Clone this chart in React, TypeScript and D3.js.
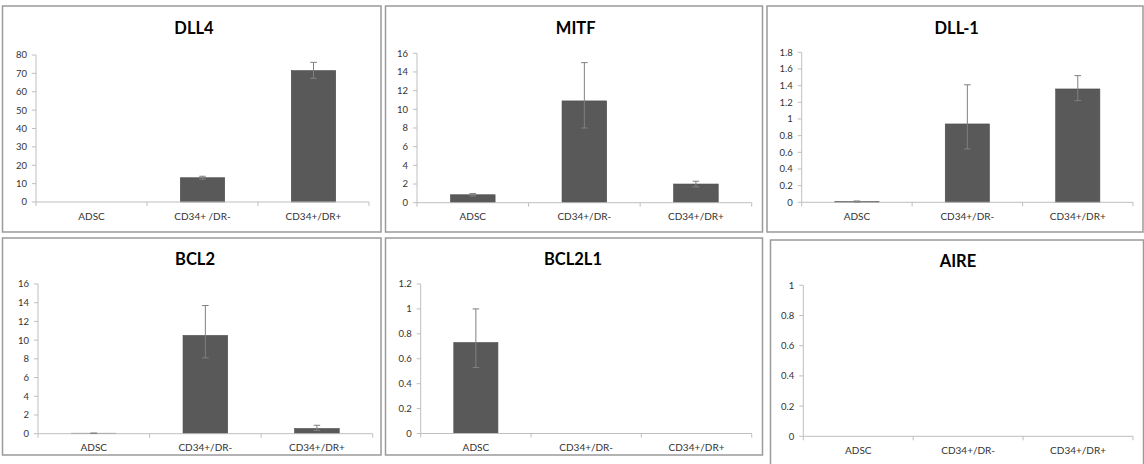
import React from "react";
import * as d3 from "d3";

// ---------- data ----------
const categories = ["ADSC", "CD34+/DR-", "CD34+/DR+"];
const dll4Categories = ["ADSC", "CD34+ /DR-", "CD34+/DR+"];
const genes = ["DLL4", "MITF", "DLL-1", "BCL2", "BCL2L1", "AIRE"];

const dll4Values = [0, 13.2, 71.5];
const dll4Upper = [0, 14.0, 76.0];
const dll4Lower = [0, 12.4, 67.3];

const mitfValues = [0.85, 10.9, 2.0];
const mitfUpper = [0.98, 15.0, 2.3];
const mitfLower = [0.72, 8.0, 1.7];

const dll1Values = [0.01, 0.94, 1.36];
const dll1Upper = [0.016, 1.41, 1.52];
const dll1Lower = [0.004, 0.64, 1.22];

const bcl2Values = [0.05, 10.5, 0.55];
const bcl2Upper = [0.06, 13.7, 0.9];
const bcl2Lower = [0.04, 8.1, 0.35];

const bcl2l1Values = [0.73, 0, 0];
const bcl2l1Upper = [1.0, 0, 0];
const bcl2l1Lower = [0.53, 0, 0];

const aireValues = [0, 0, 0];
const aireUpper = [0, 0, 0];
const aireLower = [0, 0, 0];

const yMaxes = [80, 16, 1.8, 16, 1.2, 1];
const ySteps = [10, 2, 0.2, 2, 0.2, 0.2];

// ---------- layout ----------
type Layout = {
  box: [number, number, number, number];
  plot: [number, number, number, number]; // left, top, right, bottom
  title: [number, number];
};
const layouts: Layout[] = [
  { box: [2.5, 6, 378.5, 226], plot: [36, 55, 369, 202], title: [194, 34] },
  { box: [385.5, 6, 377, 226], plot: [417, 53.3, 751.7, 202.7], title: [575.7, 33.5] },
  { box: [767, 6, 376, 226], plot: [801.7, 52.3, 1133, 202.3], title: [956.7, 33.5] },
  { box: [2.5, 238, 378.5, 217], plot: [38, 284, 372.7, 433.7], title: [195, 265] },
  { box: [385.5, 238, 377, 217], plot: [420.7, 284, 751.7, 433.5], title: [573, 265] },
  { box: [770.5, 240, 373, 230], plot: [803.3, 285.3, 1133, 436.3], title: [958, 266.5] },
];

const seriesValues = [dll4Values, mitfValues, dll1Values, bcl2Values, bcl2l1Values, aireValues];
const seriesUpper = [dll4Upper, mitfUpper, dll1Upper, bcl2Upper, bcl2l1Upper, aireUpper];
const seriesLower = [dll4Lower, mitfLower, dll1Lower, bcl2Lower, bcl2l1Lower, aireLower];

const FONT = "Lato, 'Open Sans', sans-serif";
const AXIS = "#bfbfbf";
const TEXT = "#333333";
const BAR = "#595959";
const ERR = "#808080";

const fmt = (v: number) => String(+v.toFixed(1));

function Panel({ i }: { i: number }) {
  const L = layouts[i];
  const [left, top, right, bottom] = L.plot;
  const cats = i === 0 ? dll4Categories : categories;
  const x = d3
    .scaleBand<string>()
    .domain(cats)
    .range([left, right])
    .paddingInner(0.6)
    .paddingOuter(0.3);
  const step = (right - left) / cats.length;
  const y = d3.scaleLinear().domain([0, yMaxes[i]]).range([bottom, top]);
  const ticks = d3.range(0, yMaxes[i] + ySteps[i] / 2, ySteps[i]);
  const vals = seriesValues[i];
  const up = seriesUpper[i];
  const lo = seriesLower[i];
  const bw = x.bandwidth();
  return (
    <g>
      <rect x={L.box[0]} y={L.box[1]} width={L.box[2]} height={L.box[3]} fill="#fff" stroke="#9a9a9a" strokeWidth={1.5} />
      <text x={L.title[0]} y={L.title[1]} textAnchor="middle" fontFamily={FONT} fontWeight="bold" fontSize={16.5} fill="#000">
        {genes[i]}
      </text>
      {/* y axis */}
      <line x1={left} x2={left} y1={bottom} y2={top} stroke={AXIS} strokeWidth={1} />
      {ticks.map((t) => (
        <g key={t}>
          <line x1={left - 4} x2={left} y1={y(t)} y2={y(t)} stroke={AXIS} strokeWidth={1} />
          <text x={left - 9} y={y(t) + 3.4} textAnchor="end" fontFamily={FONT} fontSize={9.5} fill={TEXT}>
            {fmt(t)}
          </text>
        </g>
      ))}
      {/* bars */}
      {cats.map((c, k) =>
        vals[k] > 0 ? (
          <rect key={c} x={x(c)} y={y(vals[k])} width={bw} height={y(0) - y(vals[k])} fill={BAR} stroke="#4a4a4a" strokeWidth={0.6} />
        ) : null
      )}
      {/* x axis */}
      <line x1={left} x2={right} y1={bottom} y2={bottom} stroke={AXIS} strokeWidth={1} />
      {d3.range(cats.length + 1).map((k) => (
        <line key={k} x1={left + k * step} x2={left + k * step} y1={bottom} y2={bottom + 4} stroke={AXIS} strokeWidth={1} />
      ))}
      {cats.map((c) => (
        <text key={c} x={(x(c) as number) + bw / 2} y={bottom + 17.5} textAnchor="middle" fontFamily={FONT} fontSize={10} fill={TEXT}>
          {c}
        </text>
      ))}
      {/* error bars */}
      {cats.map((c, k) => {
        if (up[k] === lo[k]) return null;
        const cx = (x(c) as number) + bw / 2;
        return (
          <g key={"e" + c} stroke={ERR} strokeWidth={1}>
            <line x1={cx} x2={cx} y1={y(up[k])} y2={y(lo[k])} />
            <line x1={cx - 3.3} x2={cx + 3.3} y1={y(up[k])} y2={y(up[k])} />
            <line x1={cx - 3.3} x2={cx + 3.3} y1={y(lo[k])} y2={y(lo[k])} />
          </g>
        );
      })}
    </g>
  );
}

export default function App() {
  return (
    <svg width={1144} height={464} style={{ position: "absolute", left: 0, top: 0, background: "#fff" }}>
      <rect width={1144} height={464} fill="#fff" />
      {genes.map((g, i) => (
        <Panel key={g} i={i} />
      ))}
    </svg>
  );
}
